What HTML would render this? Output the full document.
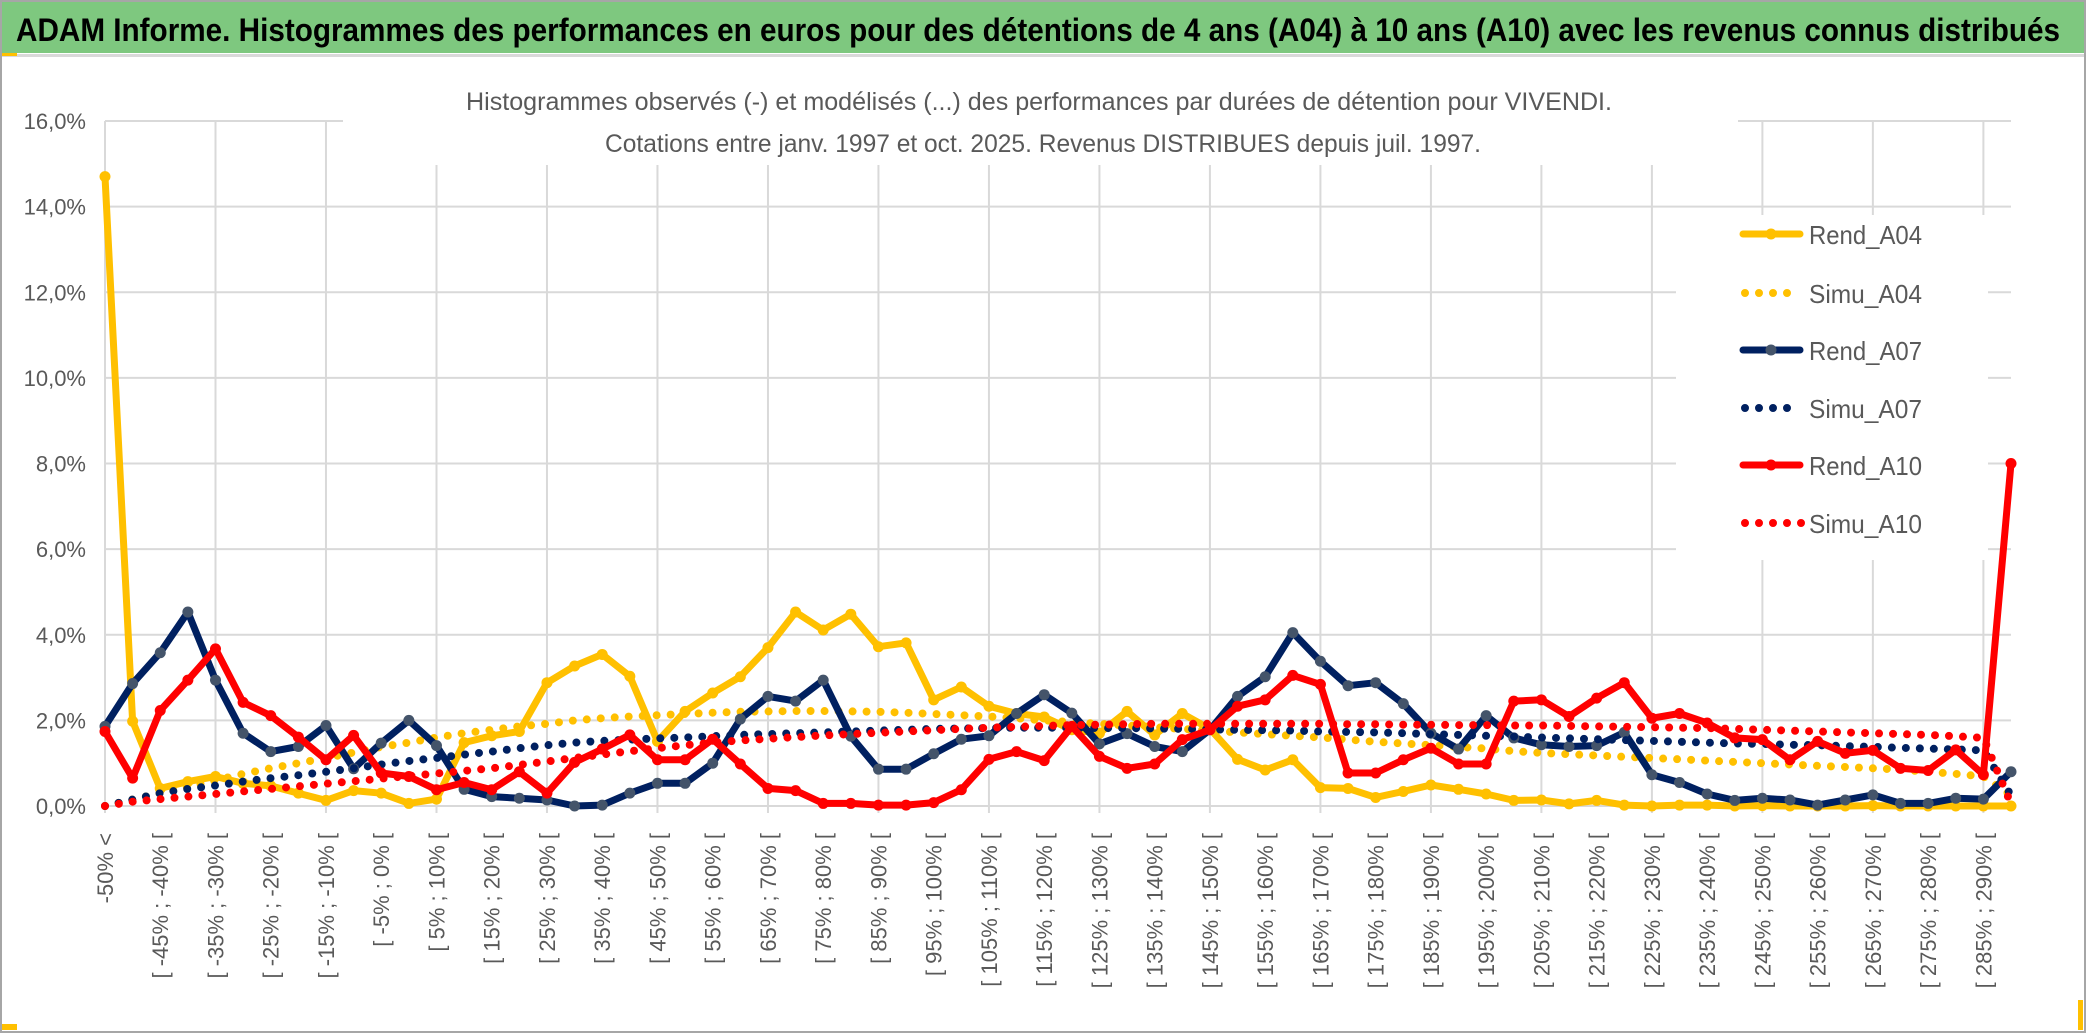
<!DOCTYPE html>
<html><head><meta charset="utf-8"><style>
html,body{margin:0;padding:0;background:#fff;width:2086px;height:1033px;overflow:hidden}
svg{display:block}
</style></head><body>
<svg id="chart" width="2086" height="1033" viewBox="0 0 2086 1033" xmlns="http://www.w3.org/2000/svg">
<rect x="1" y="1" width="2084" height="1031" fill="#fff" stroke="#a6a6a6" stroke-width="2"/>
<rect x="2" y="2" width="2082" height="51" fill="#7ec87f"/>
<rect x="2" y="54" width="2082" height="3" fill="#d9d9d9"/>
<rect x="2" y="53" width="15" height="3" fill="#ffc000"/>
<rect x="2" y="1024" width="15" height="6" fill="#ffc000"/>
<rect x="2078" y="1000" width="5" height="30" fill="#ffc000"/>
<text x="16" y="41" font-family="'Liberation Sans Narrow','Liberation Sans',sans-serif" font-weight="bold" font-size="32" fill="#000" textLength="2044" lengthAdjust="spacingAndGlyphs">ADAM Informe. Histogrammes des performances en euros pour des détentions de 4 ans (A04) à 10 ans (A10) avec les revenus connus distribués</text>
<g id="grid"></g>
<rect x="343" y="80" width="1395" height="85" fill="#fff"/>
<text x="466" y="110" font-family="'Liberation Sans Narrow','Liberation Sans',sans-serif" font-size="25" fill="#595959" textLength="1146" lengthAdjust="spacingAndGlyphs">Histogrammes observés (-) et modélisés (...) des performances par durées de détention pour VIVENDI.</text>
<text x="605" y="152" font-family="'Liberation Sans Narrow','Liberation Sans',sans-serif" font-size="25" fill="#595959" textLength="876" lengthAdjust="spacingAndGlyphs">Cotations entre janv. 1997 et oct. 2025. Revenus DISTRIBUES depuis juil. 1997.</text>
<rect x="1676" y="215" width="312" height="345" fill="#fff"/>
<g id="yaxis"></g>
<g id="xaxis"></g>
<g id="series"></g>
<g id="legend"></g>
</svg>
<script>
const yTicks = [0, 2, 4, 6, 8, 10, 12, 14, 16];
const yTickLabels = ["0,0%","2,0%","4,0%","6,0%","8,0%","10,0%","12,0%","14,0%","16,0%"];
const xTickLabels = ["-50% <","[ -45% ; -40% [","[ -35% ; -30% [","[ -25% ; -20% [","[ -15% ; -10% [","[ -5% ; 0% [","[ 5% ; 10% [","[ 15% ; 20% [","[ 25% ; 30% [","[ 35% ; 40% [","[ 45% ; 50% [","[ 55% ; 60% [","[ 65% ; 70% [","[ 75% ; 80% [","[ 85% ; 90% [","[ 95% ; 100% [","[ 105% ; 110% [","[ 115% ; 120% [","[ 125% ; 130% [","[ 135% ; 140% [","[ 145% ; 150% [","[ 155% ; 160% [","[ 165% ; 170% [","[ 175% ; 180% [","[ 185% ; 190% [","[ 195% ; 200% [","[ 205% ; 210% [","[ 215% ; 220% [","[ 225% ; 230% [","[ 235% ; 240% [","[ 245% ; 250% [","[ 255% ; 260% [","[ 265% ; 270% [","[ 275% ; 280% [","[ 285% ; 290% ["];
const categoryCount = 70;
const rendA04 = [14.7,1.98,0.41,0.57,0.69,0.53,0.47,0.30,0.13,0.36,0.30,0.06,0.16,1.48,1.64,1.74,2.88,3.27,3.54,3.03,1.51,2.21,2.64,3.02,3.70,4.53,4.11,4.48,3.72,3.81,2.48,2.78,2.33,2.16,2.08,1.78,1.70,2.21,1.66,2.16,1.80,1.09,0.84,1.08,0.43,0.41,0.20,0.34,0.49,0.39,0.28,0.13,0.14,0.05,0.13,0.02,0.0,0.02,0.02,0.0,0.01,0.0,0.0,0.0,0.01,0.0,0.0,0.0,0.0,0.0];
const simuA04 = [0.0,0.15,0.3,0.45,0.6,0.75,0.88,1.0,1.12,1.25,1.38,1.48,1.6,1.7,1.78,1.86,1.92,2.0,2.05,2.09,2.12,2.15,2.18,2.2,2.21,2.22,2.22,2.21,2.2,2.18,2.15,2.12,2.09,2.05,2.0,1.96,1.92,1.88,1.84,1.8,1.76,1.72,1.68,1.64,1.6,1.55,1.5,1.46,1.42,1.38,1.34,1.28,1.24,1.21,1.18,1.15,1.12,1.09,1.06,1.03,1.0,0.97,0.94,0.91,0.88,0.85,0.8,0.75,0.69,0.25];
const rendA07 = [1.86,2.86,3.58,4.53,2.94,1.70,1.27,1.39,1.88,0.87,1.47,2.0,1.41,0.39,0.22,0.18,0.14,0.0,0.02,0.30,0.53,0.53,1.0,2.03,2.56,2.45,2.94,1.63,0.86,0.86,1.22,1.56,1.64,2.16,2.60,2.17,1.45,1.69,1.39,1.27,1.78,2.56,3.02,4.05,3.38,2.81,2.88,2.39,1.70,1.33,2.11,1.59,1.43,1.39,1.41,1.72,0.73,0.55,0.28,0.13,0.18,0.14,0.02,0.14,0.26,0.06,0.06,0.18,0.16,0.80];
const simuA07 = [0.0,0.15,0.3,0.4,0.48,0.57,0.65,0.72,0.8,0.88,0.97,1.05,1.12,1.2,1.27,1.35,1.42,1.48,1.52,1.55,1.58,1.6,1.63,1.66,1.68,1.7,1.72,1.74,1.76,1.78,1.8,1.81,1.82,1.83,1.83,1.83,1.82,1.82,1.81,1.8,1.79,1.78,1.77,1.76,1.74,1.73,1.72,1.7,1.68,1.66,1.64,1.62,1.6,1.58,1.56,1.54,1.52,1.5,1.48,1.46,1.45,1.43,1.42,1.4,1.38,1.36,1.34,1.32,1.3,0.25];
const rendA10 = [1.74,0.65,2.23,2.94,3.67,2.42,2.11,1.61,1.08,1.65,0.77,0.69,0.38,0.55,0.38,0.80,0.30,1.02,1.33,1.66,1.08,1.08,1.56,0.98,0.41,0.36,0.06,0.06,0.02,0.02,0.08,0.38,1.09,1.27,1.06,1.86,1.16,0.88,0.98,1.55,1.78,2.33,2.48,3.05,2.84,0.77,0.77,1.08,1.35,0.98,0.98,2.45,2.48,2.09,2.52,2.88,2.05,2.16,1.94,1.59,1.55,1.08,1.51,1.23,1.30,0.88,0.83,1.31,0.73,8.0];
const simuA10 = [0.0,0.1,0.16,0.22,0.28,0.34,0.4,0.46,0.52,0.58,0.64,0.7,0.76,0.82,0.88,0.96,1.04,1.12,1.2,1.28,1.35,1.42,1.48,1.53,1.57,1.61,1.65,1.68,1.71,1.74,1.77,1.8,1.83,1.85,1.87,1.89,1.9,1.91,1.92,1.92,1.92,1.92,1.92,1.92,1.92,1.91,1.91,1.9,1.9,1.89,1.89,1.88,1.88,1.87,1.86,1.85,1.84,1.83,1.82,1.8,1.78,1.76,1.74,1.72,1.7,1.68,1.66,1.63,1.59,0.05];
const seriesNames = ["Rend_A04","Simu_A04","Rend_A07","Simu_A07","Rend_A10","Simu_A10"];

const NS = "http://www.w3.org/2000/svg";
const X0 = 105, X1 = 2011, Y0 = 806, Y1 = 121, YMAX = 16;
function xPos(i){ return X0 + i * (X1 - X0) / (categoryCount - 1); }
function yPos(v){ return Y0 - v * (Y0 - Y1) / YMAX; }
function mk(tag, attrs, parent){ const e = document.createElementNS(NS, tag); for (const k in attrs) e.setAttribute(k, attrs[k]); parent.appendChild(e); return e; }

const grid = document.getElementById('grid');
yTicks.forEach(function(t){
  const l = mk('line', {x1: X0, x2: X1, y1: yPos(t), y2: yPos(t), stroke: '#d9d9d9', 'stroke-width': 2}, grid);
  
  
});
for (let i = 0; i < categoryCount; i += 4) {
  const l = mk('line', {x1: xPos(i), x2: xPos(i), y1: Y1, y2: Y0 + 7, stroke: '#d9d9d9', 'stroke-width': 2}, grid);
  
  
}

const yaxis = document.getElementById('yaxis');
yTicks.forEach(function(t, k){
  const tx = mk('text', {x: 86, y: yPos(t) + 8, 'text-anchor': 'end', 'font-family': "'Liberation Sans Narrow','Liberation Sans',sans-serif", 'font-size': 22, fill: '#595959'}, yaxis);
  tx.textContent = yTickLabels[k];
  
  
});

const xaxis = document.getElementById('xaxis');
xTickLabels.forEach(function(lab, k){
  const x = xPos(k * 2);
  const tx = mk('text', {x: 0, y: 0, transform: 'translate(' + x + ',833) rotate(-90)', 'text-anchor': 'end', dy: '0.36em', 'font-family': "'Liberation Sans',sans-serif", 'font-size': 22, fill: '#595959'}, xaxis);
  tx.textContent = lab;
  
  
});

const seriesG = document.getElementById('series');
function ptsOf(arr){ return arr.map(function(v, i){ return xPos(i).toFixed(1) + ',' + yPos(v).toFixed(1); }).join(' '); }
function drawRend(arr, color, markerFill, name){
  const g = mk('g', {}, seriesG);
  
  
  const p = mk('polyline', {points: ptsOf(arr), fill: 'none', stroke: color, 'stroke-width': 7, 'stroke-linejoin': 'round', 'stroke-linecap': 'round'}, g);
  
  
  arr.forEach(function(v, i){
    const c = mk('circle', {cx: xPos(i), cy: yPos(v), r: 5.5, fill: markerFill}, g);
    
    
  });
}
function drawSimu(arr, color, name){
  const p = mk('polyline', {points: ptsOf(arr), fill: 'none', stroke: color, 'stroke-width': 8, 'stroke-linecap': 'round', 'stroke-linejoin': 'round', 'stroke-dasharray': '0 14'}, seriesG);
  
  
}
drawRend(rendA04, '#ffc000', '#ffc000', 'rend-a04');
drawSimu(simuA04, '#ffc000', 'simu-a04');
drawRend(rendA07, '#002060', '#44546a', 'rend-a07');
drawSimu(simuA07, '#002060', 'simu-a07');
drawRend(rendA10, '#ff0000', '#ff0000', 'rend-a10');
drawSimu(simuA10, '#ff0000', 'simu-a10');

const legend = document.getElementById('legend');
const legColors = ['#ffc000','#ffc000','#002060','#002060','#ff0000','#ff0000'];
const legMarker = ['#ffc000',null,'#44546a',null,'#ff0000',null];
const legY = [234, 293, 350, 408, 465, 523];
seriesNames.forEach(function(n, k){
  const g = mk('g', {}, legend);
  
  
  const y = legY[k];
  if (legMarker[k]) {
    mk('line', {x1: 1743, x2: 1800, y1: y, y2: y, stroke: legColors[k], 'stroke-width': 7, 'stroke-linecap': 'round'}, g);
    mk('circle', {cx: 1771, cy: y, r: 5.5, fill: legMarker[k]}, g);
  } else {
    mk('line', {x1: 1745, x2: k === 5 ? 1802 : 1792, y1: y, y2: y, stroke: legColors[k], 'stroke-width': 8, 'stroke-linecap': 'round', 'stroke-dasharray': '0 14'}, g);
  }
  const t = mk('text', {x: 1809, y: y + 10, 'font-family': "'Liberation Sans Narrow','Liberation Sans',sans-serif", 'font-size': 26, fill: '#595959', textLength: 113, lengthAdjust: 'spacingAndGlyphs'}, g);
  t.textContent = n;
});
</script>
</body></html>
